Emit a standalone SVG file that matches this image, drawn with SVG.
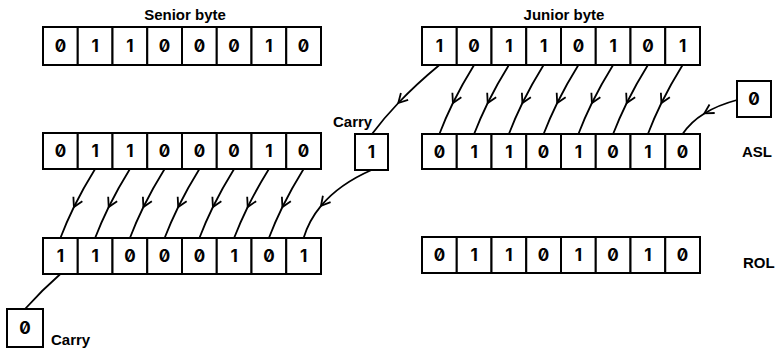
<svg xmlns="http://www.w3.org/2000/svg" width="775" height="353" viewBox="0 0 775 353">
<style>
.cell{fill:#fff;stroke:#000;stroke-width:2}
.d{font-family:Inter,"DejaVu Sans",sans-serif;font-weight:700;font-size:17px;text-anchor:middle;font-feature-settings:"zero" 1;fill:#000}
.lbl{font-family:"Liberation Sans",Arial,sans-serif;font-weight:700;font-size:15px;fill:#000}
.c{fill:none;stroke:#000;stroke-width:1.8;marker-mid:url(#v)}
.cn{fill:none;stroke:#000;stroke-width:1.8}
</style>
<defs>
<marker id="v" markerUnits="userSpaceOnUse" markerWidth="20" markerHeight="20" refX="0" refY="0" viewBox="-10 -10 20 20" orient="auto" overflow="visible">
<path d="M -9 -5 L 0 0 L -9 5" fill="none" stroke="#000" stroke-width="1.8"/>
</marker>
</defs>
<rect width="775" height="353" fill="#fff"/>

<text class="lbl" x="185" y="20" text-anchor="middle">Senior byte</text>
<text class="lbl" x="564" y="20" text-anchor="middle">Junior byte</text>

<g id="senior-orig">
<rect class="cell" x="43" y="27" width="34.75" height="38"/><rect class="cell" x="77.75" y="27" width="34.75" height="38"/><rect class="cell" x="112.5" y="27" width="34.75" height="38"/><rect class="cell" x="147.25" y="27" width="34.75" height="38"/><rect class="cell" x="182" y="27" width="34.75" height="38"/><rect class="cell" x="216.75" y="27" width="34.75" height="38"/><rect class="cell" x="251.5" y="27" width="34.75" height="38"/><rect class="cell" x="286.25" y="27" width="34.75" height="38"/>
<text class="d" y="52"><tspan x="60.4">0</tspan><tspan x="95.1">1</tspan><tspan x="129.9">1</tspan><tspan x="164.6">0</tspan><tspan x="199.4">0</tspan><tspan x="234.1">0</tspan><tspan x="268.9">1</tspan><tspan x="303.6">0</tspan></text>
</g>

<g id="junior-orig">
<rect class="cell" x="422" y="27" width="34.75" height="38"/><rect class="cell" x="456.75" y="27" width="34.75" height="38"/><rect class="cell" x="491.5" y="27" width="34.75" height="38"/><rect class="cell" x="526.25" y="27" width="34.75" height="38"/><rect class="cell" x="561" y="27" width="34.75" height="38"/><rect class="cell" x="595.75" y="27" width="34.75" height="38"/><rect class="cell" x="630.5" y="27" width="34.75" height="38"/><rect class="cell" x="665.25" y="27" width="34.75" height="38"/>
<text class="d" y="52"><tspan x="439.4">1</tspan><tspan x="474.1">0</tspan><tspan x="508.9">1</tspan><tspan x="543.6">1</tspan><tspan x="578.4">0</tspan><tspan x="613.1">1</tspan><tspan x="647.9">0</tspan><tspan x="682.6">1</tspan></text>
</g>

<g id="senior-mid">
<rect class="cell" x="43" y="133" width="34.75" height="36"/><rect class="cell" x="77.75" y="133" width="34.75" height="36"/><rect class="cell" x="112.5" y="133" width="34.75" height="36"/><rect class="cell" x="147.25" y="133" width="34.75" height="36"/><rect class="cell" x="182" y="133" width="34.75" height="36"/><rect class="cell" x="216.75" y="133" width="34.75" height="36"/><rect class="cell" x="251.5" y="133" width="34.75" height="36"/><rect class="cell" x="286.25" y="133" width="34.75" height="36"/>
<text class="d" y="157"><tspan x="60.4">0</tspan><tspan x="95.1">1</tspan><tspan x="129.9">1</tspan><tspan x="164.6">0</tspan><tspan x="199.4">0</tspan><tspan x="234.1">0</tspan><tspan x="268.9">1</tspan><tspan x="303.6">0</tspan></text>
</g>

<g id="carry-mid">
<rect class="cell" x="355" y="134" width="33" height="36"/>
<text class="d" x="371.5" y="158">1</text>
<text class="lbl" x="333" y="127">Carry</text>
</g>

<g id="junior-asl">
<rect class="cell" x="422" y="134" width="34.75" height="35"/><rect class="cell" x="456.75" y="134" width="34.75" height="35"/><rect class="cell" x="491.5" y="134" width="34.75" height="35"/><rect class="cell" x="526.25" y="134" width="34.75" height="35"/><rect class="cell" x="561" y="134" width="34.75" height="35"/><rect class="cell" x="595.75" y="134" width="34.75" height="35"/><rect class="cell" x="630.5" y="134" width="34.75" height="35"/><rect class="cell" x="665.25" y="134" width="34.75" height="35"/>
<text class="d" y="158"><tspan x="439.4">0</tspan><tspan x="474.1">1</tspan><tspan x="508.9">1</tspan><tspan x="543.6">0</tspan><tspan x="578.4">1</tspan><tspan x="613.1">0</tspan><tspan x="647.9">1</tspan><tspan x="682.6">0</tspan></text>
<text class="lbl" x="742" y="157">ASL</text>
</g>

<g id="zero-in">
<rect class="cell" x="737" y="81" width="34" height="36"/>
<text class="d" x="754" y="105">0</text>
</g>

<g id="senior-result">
<rect class="cell" x="43" y="238" width="34.75" height="36"/><rect class="cell" x="77.75" y="238" width="34.75" height="36"/><rect class="cell" x="112.5" y="238" width="34.75" height="36"/><rect class="cell" x="147.25" y="238" width="34.75" height="36"/><rect class="cell" x="182" y="238" width="34.75" height="36"/><rect class="cell" x="216.75" y="238" width="34.75" height="36"/><rect class="cell" x="251.5" y="238" width="34.75" height="36"/><rect class="cell" x="286.25" y="238" width="34.75" height="36"/>
<text class="d" y="262"><tspan x="60.4">1</tspan><tspan x="95.1">1</tspan><tspan x="129.9">0</tspan><tspan x="164.6">0</tspan><tspan x="199.4">0</tspan><tspan x="234.1">1</tspan><tspan x="268.9">0</tspan><tspan x="303.6">1</tspan></text>
</g>

<g id="junior-result">
<rect class="cell" x="422" y="237" width="34.75" height="36"/><rect class="cell" x="456.75" y="237" width="34.75" height="36"/><rect class="cell" x="491.5" y="237" width="34.75" height="36"/><rect class="cell" x="526.25" y="237" width="34.75" height="36"/><rect class="cell" x="561" y="237" width="34.75" height="36"/><rect class="cell" x="595.75" y="237" width="34.75" height="36"/><rect class="cell" x="630.5" y="237" width="34.75" height="36"/><rect class="cell" x="665.25" y="237" width="34.75" height="36"/>
<text class="d" y="261"><tspan x="439.4">0</tspan><tspan x="474.1">1</tspan><tspan x="508.9">1</tspan><tspan x="543.6">0</tspan><tspan x="578.4">1</tspan><tspan x="613.1">0</tspan><tspan x="647.9">1</tspan><tspan x="682.6">0</tspan></text>
<text class="lbl" x="743" y="268">ROL</text>
</g>

<g id="carry-out">
<rect class="cell" x="7" y="309" width="36" height="38"/>
<text class="d" x="25" y="334">0</text>
<text class="lbl" x="51" y="345">Carry</text>
</g>

<g id="connectors">
<path class="c" d="M 439.4 65 Q 416.4 84 398.3 103 Q 383.5 118.5 372 134"/>
<path class="c" d="M 474.1 65 Q 462.3 84 452.9 103 Q 445.3 118.5 439.4 134"/>
<path class="c" d="M 508.9 65 Q 497.1 84 487.7 103 Q 480.1 118.5 474.1 134"/>
<path class="c" d="M 543.6 65 Q 531.8 84 522.4 103 Q 514.8 118.5 508.9 134"/>
<path class="c" d="M 578.4 65 Q 566.6 84 557.2 103 Q 549.6 118.5 543.6 134"/>
<path class="c" d="M 613.1 65 Q 601.3 84 591.9 103 Q 584.3 118.5 578.4 134"/>
<path class="c" d="M 647.9 65 Q 636.1 84 626.7 103 Q 619.1 118.5 613.1 134"/>
<path class="c" d="M 682.6 65 Q 670.8 84 661.4 103 Q 653.8 118.5 647.9 134"/>
<path class="c" d="M 737 100 Q 718 105.1 704.4 113.4 Q 690.8 121.6 682.6 134"/>
<path class="c" d="M 95.1 169 Q 83.3 188 73.9 207 Q 66.3 222.5 60.4 238"/>
<path class="c" d="M 129.9 169 Q 118.1 188 108.7 207 Q 101.1 222.5 95.1 238"/>
<path class="c" d="M 164.6 169 Q 152.8 188 143.4 207 Q 135.8 222.5 129.9 238"/>
<path class="c" d="M 199.4 169 Q 187.6 188 178.2 207 Q 170.6 222.5 164.6 238"/>
<path class="c" d="M 234.1 169 Q 222.3 188 212.9 207 Q 205.3 222.5 199.4 238"/>
<path class="c" d="M 268.9 169 Q 257.1 188 247.7 207 Q 240.1 222.5 234.1 238"/>
<path class="c" d="M 303.6 169 Q 291.8 188 282.4 207 Q 274.8 222.5 268.9 238"/>
<path class="c" d="M 371.5 170 Q 338.9 184.3 321 205.9 Q 309 220.3 303.6 238"/>
<path class="cn" d="M 60.4 274 Q 42 290 25 309"/>
</g>
</svg>
